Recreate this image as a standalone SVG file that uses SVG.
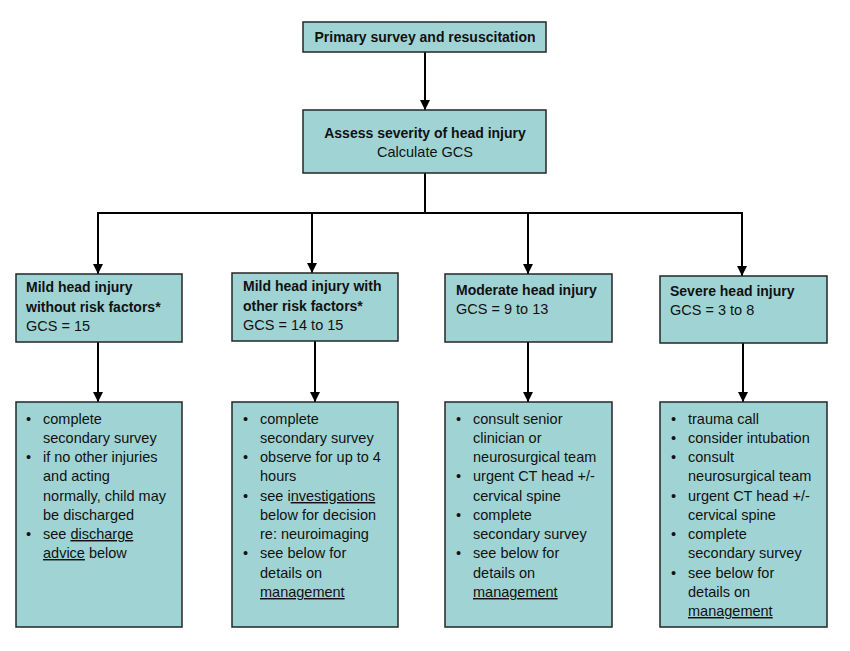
<svg xmlns="http://www.w3.org/2000/svg" width="850" height="651" viewBox="0 0 850 651">
<style>
.box{fill:#a0d4d4;stroke:#262626;stroke-width:1.5}
text{font-family:"Liberation Sans",Arial,sans-serif;fill:#111;font-size:14.5px}
.b{font-weight:bold;font-size:14px}
.c{text-anchor:middle}
.u{text-decoration:underline}
.ln{fill:none;stroke:#000;stroke-width:2}
</style>
<defs>
<marker id="ah" viewBox="0 0 10 10" refX="10" refY="5" markerWidth="5" markerHeight="5" orient="auto" markerUnits="strokeWidth">
<path d="M0,0 L10,5 L0,10 z" fill="#000"/>
</marker>
</defs>
<rect width="850" height="651" fill="#fff"/>
<g id="connectors">
<line class="ln" x1="425" y1="52" x2="425" y2="110" marker-end="url(#ah)"/>
<line class="ln" x1="425" y1="173" x2="425" y2="213"/>
<line class="ln" x1="97" y1="213" x2="743" y2="213"/>
<line class="ln" x1="98" y1="212" x2="98" y2="274" marker-end="url(#ah)"/>
<line class="ln" x1="312" y1="212" x2="312" y2="273" marker-end="url(#ah)"/>
<line class="ln" x1="528" y1="212" x2="528" y2="274" marker-end="url(#ah)"/>
<line class="ln" x1="742" y1="212" x2="742" y2="276" marker-end="url(#ah)"/>
<line class="ln" x1="98" y1="342" x2="98" y2="402" marker-end="url(#ah)"/>
<line class="ln" x1="315" y1="341" x2="315" y2="402" marker-end="url(#ah)"/>
<line class="ln" x1="528" y1="342" x2="528" y2="402" marker-end="url(#ah)"/>
<line class="ln" x1="743" y1="343" x2="743" y2="402" marker-end="url(#ah)"/>
</g>
<g id="primary">
<rect class="box" x="303" y="22" width="243" height="30"/>
<text class="b c" x="425" y="42">Primary survey and resuscitation</text>
</g>
<g id="assess">
<rect class="box" x="303" y="110" width="243" height="63"/>
<text class="b c" x="425" y="138">Assess severity of head injury</text>
<text class="c" x="425" y="157">Calculate GCS</text>
</g>
<g id="mild">
<rect class="box" x="16" y="274" width="166" height="68"/>
<text class="b" x="26" y="292">Mild head injury</text>
<text class="b" x="26" y="311.5">without risk factors*</text>
<text x="26" y="331">GCS = 15</text>
</g>
<g id="mild-risk">
<rect class="box" x="232" y="273" width="166" height="68"/>
<text class="b" x="243" y="291">Mild head injury with</text>
<text class="b" x="243" y="310.5">other risk factors*</text>
<text x="243" y="330">GCS = 14 to 15</text>
</g>
<g id="moderate">
<rect class="box" x="445" y="274" width="167" height="68"/>
<text class="b" x="456" y="295">Moderate head injury</text>
<text x="456" y="314">GCS = 9 to 13</text>
</g>
<g id="severe">
<rect class="box" x="660" y="276" width="167" height="67"/>
<text class="b" x="670" y="296">Severe head injury</text>
<text x="670" y="315">GCS = 3 to 8</text>
</g>
<g id="mild-actions">
<rect class="box" x="16" y="402" width="166" height="225"/>
<text x="26" y="424">•</text><text x="43" y="424">complete</text>
<text x="43" y="443">secondary survey</text>
<text x="26" y="462">•</text><text x="43" y="462">if no other injuries</text>
<text x="43" y="481">and acting</text>
<text x="43" y="501">normally, child may</text>
<text x="43" y="520">be discharged</text>
<text x="26" y="539">•</text><text x="43" y="539">see <tspan class="u">discharge</tspan></text>
<text x="43" y="558"><tspan class="u">advice</tspan> below</text>
</g>
<g id="mild-risk-actions">
<rect class="box" x="232" y="402" width="166" height="225"/>
<text x="243" y="424">•</text><text x="260" y="424">complete</text>
<text x="260" y="443">secondary survey</text>
<text x="243" y="462">•</text><text x="260" y="462">observe for up to 4</text>
<text x="260" y="481">hours</text>
<text x="243" y="501">•</text><text x="260" y="501">see i<tspan class="u">nvestigations</tspan></text>
<text x="260" y="520">below for decision</text>
<text x="260" y="539">re: neuroimaging</text>
<text x="243" y="558">•</text><text x="260" y="558">see below for</text>
<text x="260" y="578">details on</text>
<text x="260" y="597" class="u">management</text>
</g>
<g id="moderate-actions">
<rect class="box" x="445" y="402" width="167" height="225"/>
<text x="456" y="424">•</text><text x="473" y="424">consult senior</text>
<text x="473" y="443">clinician or</text>
<text x="473" y="462">neurosurgical team</text>
<text x="456" y="481">•</text><text x="473" y="481">urgent CT head +/-</text>
<text x="473" y="501">cervical spine</text>
<text x="456" y="520">•</text><text x="473" y="520">complete</text>
<text x="473" y="539">secondary survey</text>
<text x="456" y="558">•</text><text x="473" y="558">see below for</text>
<text x="473" y="578">details on</text>
<text x="473" y="597" class="u">management</text>
</g>
<g id="severe-actions">
<rect class="box" x="660" y="402" width="167" height="225"/>
<text x="671" y="424">•</text><text x="688" y="424">trauma call</text>
<text x="671" y="443">•</text><text x="688" y="443">consider intubation</text>
<text x="671" y="462">•</text><text x="688" y="462">consult</text>
<text x="688" y="481">neurosurgical team</text>
<text x="671" y="501">•</text><text x="688" y="501">urgent CT head +/-</text>
<text x="688" y="520">cervical spine</text>
<text x="671" y="539">•</text><text x="688" y="539">complete</text>
<text x="688" y="558">secondary survey</text>
<text x="671" y="578">•</text><text x="688" y="578">see below for</text>
<text x="688" y="597">details on</text>
<text x="688" y="616" class="u">management</text>
</g>
</svg>
